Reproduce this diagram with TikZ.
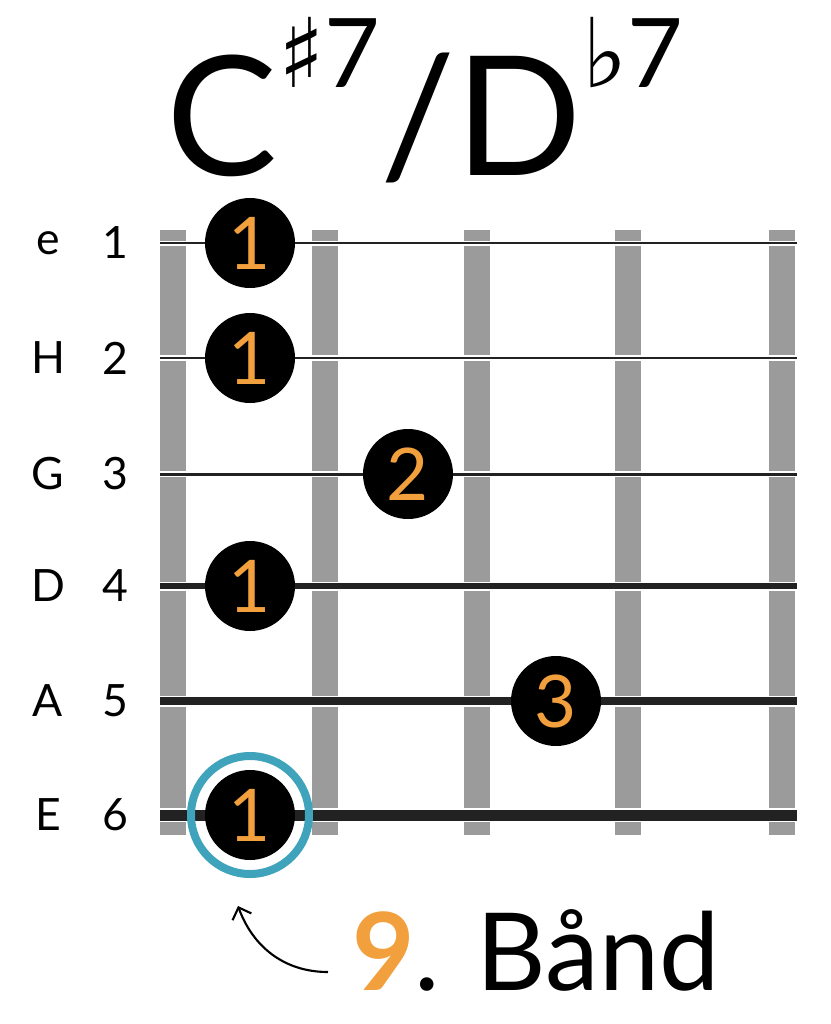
\documentclass[tikz,border=0pt]{standalone}
\usepackage{fontspec}
\setmainfont{Lato}
\newfontfamily\symfont{DejaVu Sans}
\usetikzlibrary{arrows.meta}
\definecolor{fretgray}{HTML}{9B9B9B}
\definecolor{fingerorange}{HTML}{F2A03D}
\definecolor{ringteal}{HTML}{3FA3BB}
\definecolor{stringdark}{HTML}{222222}

\begin{document}
\begin{tikzpicture}[
    x=0.03cm, y=-0.03cm,
    fret/.style={fill=fretgray, draw=none},
    finger/.style={circle, fill=black, minimum size=90*0.03cm, inner sep=0pt,
        text=fingerorange, font=\fontsize{62}{62}\selectfont},
    stringlbl/.style={font=\fontsize{38}{38}\selectfont, anchor=center},
    ring/.style={circle, draw=ringteal, line width=8*0.03cm, minimum size=118*0.03cm, inner sep=0pt}
]
\useasboundingbox (0,0) rectangle (830,1024);

% Title
\node[font=\fontsize{142}{142}\selectfont, inner sep=0pt] (title) at (425,100)
    {C\raisebox{1.05ex}{\fontsize{82}{82}\selectfont{\symfont ♯}7}/D\raisebox{1.05ex}{\fontsize{82}{82}\selectfont{\symfont ♭}7}};

% Frets
\foreach \fx in {173,325,477,628,782}
    \fill[fret] (\fx-13,230) rectangle (\fx+13,835);

% Strings with labels
\foreach \sy/\sw/\nm/\nr in {243/2/e/1,358/2.5/H/2,474/3/G/3,586/6/D/4,701/8/A/5,815/11/E/6} {
    \draw[white, line width=(\sw+3)*0.03cm] (160,\sy) -- (797,\sy);
    \draw[stringdark, line width=\sw*0.03cm] (160,\sy) -- (797,\sy);
    \node[stringlbl] (name\nr) at (48,\sy) {\nm};
    \node[stringlbl] (num\nr) at (115,\sy) {\nr};
}

% Fingers
\node[finger] (f1) at (250,243) {1};
\node[finger] (f2) at (250,358) {1};
\node[finger] (f3) at (408,474) {2};
\node[finger] (f4) at (250,586) {1};
\node[finger] (f5) at (556,701) {3};
\node[finger] (f6) at (250,815) {1};
\node[ring] (root) at (250,815) {};

% Fret position
\node[font=\fontsize{92}{92}\selectfont, anchor=west, inner sep=0pt] (band) at (352,950)
    {\textcolor{fingerorange}{\textbf{9}}. Bånd};
\coordinate (tail) at (328,972);
\draw[-{Straight Barb[length=3mm]}, line width=1.8pt] (tail) to[out=180,in=-70] ([xshift=-12*0.03cm, yshift=-28*0.03cm]root.south);

\end{tikzpicture}
\end{document}
